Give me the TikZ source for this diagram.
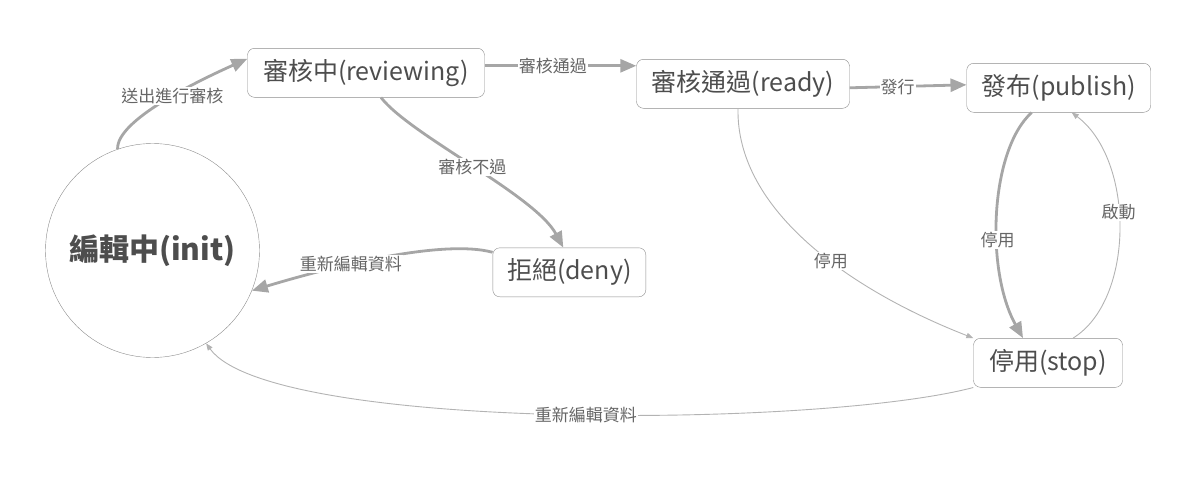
\documentclass[tikz,border=0pt]{standalone}
\usepackage{fontspec}
\setmainfont{Noto Sans CJK TC}
\usetikzlibrary{arrows.meta}

\definecolor{boxline}{HTML}{8C8C8C}
\definecolor{boxtext}{HTML}{4D4D4D}
\definecolor{flowline}{HTML}{A6A6A6}
\definecolor{thinline}{HTML}{B3B3B3}
\definecolor{labeltext}{HTML}{666666}

\begin{document}
\begin{tikzpicture}[x=1pt, y=-1pt,
  state/.style={draw=boxline, rounded corners=7pt, text=boxtext,
    font=\fontsize{25}{29}\selectfont, minimum height=49pt, inner sep=0pt},
  mainflow/.style={draw=flowline, line width=2.8pt, -{Triangle[length=16pt,width=13pt]}},
  sideflow/.style={draw=thinline, line width=0.9pt, -{Triangle[length=7pt,width=5.5pt]}},
  tag/.style={fill=white, text=labeltext, font=\fontsize{17}{19}\selectfont, inner sep=1pt}
]

  % Fix the canvas
  \useasboundingbox (0,0) rectangle (1186,479);

  % Draw the states
  \node[circle, draw=boxline, minimum size=214pt, inner sep=0pt, text=boxtext,
    font=\bfseries\fontsize{30}{34}\selectfont] (init) at (152.5,250.5) {編輯中(init)};
  \node[state, minimum width=237pt] (reviewing) at (366,72.8) {審核中(reviewing)};
  \node[state, minimum width=213pt] (ready) at (743,83.8) {審核通過(ready)};
  \node[state, minimum width=184pt] (publish) at (1058.7,87.8) {發布(publish)};
  \node[state, minimum width=153pt] (deny) at (569.3,272.3) {拒絕(deny)};
  \node[state, minimum width=149pt] (stop) at (1048,362.8) {停用(stop)};

  % Draw the transitions
  \draw[mainflow] (init.109) .. controls (116,120) and (200,80) .. ([yshift=14pt]reviewing.west)
    node[tag, pos=0.55] {送出進行審核};
  \draw[mainflow] ([yshift=7pt]reviewing.east) -- ([yshift=18pt]ready.west)
    node[tag, pos=0.45] {審核通過};
  \draw[mainflow] ([yshift=-4pt]ready.east) -- ([yshift=3pt]publish.west)
    node[tag, pos=0.41] {發行};
  \draw[mainflow] ([xshift=15pt]reviewing.south) .. controls (410,135) and (535,195) .. ([xshift=-6pt]deny.north)
    node[tag, pos=0.5] {審核不過};
  \draw[mainflow] ([yshift=20pt]deny.west) .. controls (440,238) and (320,270) .. (init.-22)
    node[tag, pos=0.6] {重新編輯資料};
  \draw[sideflow] ([xshift=-5pt]ready.south) .. controls (736,210) and (850,290) .. (stop.north west)
    node[tag, pos=0.58] {停用};
  \draw[mainflow] ([xshift=-27pt]publish.south) .. controls (990,150) and (985,270) .. ([xshift=-25pt]stop.north)
    node[tag, pos=0.6] {停用};
  \draw[sideflow] ([xshift=25pt]stop.north) .. controls (1135,300) and (1135,160) .. ([xshift=13pt]publish.south)
    node[tag, pos=0.56] {啟動};
  \draw[sideflow] (stop.south west) .. controls (820,428) and (270,432) .. (init.-60)
    node[tag, pos=0.47] {重新編輯資料};

\end{tikzpicture}
\end{document}
